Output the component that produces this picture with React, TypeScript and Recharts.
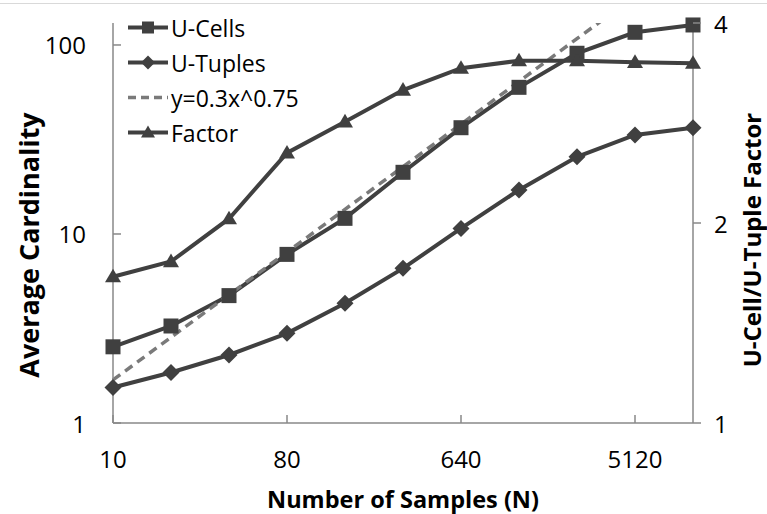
import { LineChart, Line, XAxis, YAxis, Legend, Label } from "recharts";

const samples = [10, 20, 40, 80, 160, 320, 640, 1280, 2560, 5120, 10240];
const uCells = [2.53, 3.26, 4.72, 7.8, 12.1, 21.2, 36.5, 59.7, 90.4, 116.7, 127.6];
const uTuples = [1.54, 1.85, 2.29, 2.98, 4.3, 6.58, 10.7, 17.1, 25.6, 33.4, 36.5];
const fitLine = [1.69, 2.84, 4.77, 8.02, 13.5, 22.7, 38.1, 64.1, 108, 181, 305];
const factor = [1.66, 1.75, 2.03, 2.55, 2.84, 3.17, 3.42, 3.51, 3.51, 3.49, 3.48];

const xTicks = [10, 80, 640, 5120];
const leftTicks = [1, 10, 100];
const rightTicks = [1, 2, 4];

const seriesNames = ["U-Cells", "U-Tuples", "y=0.3x^0.75", "Factor"];

const data = samples.map((n, i) => ({
  n,
  cells: uCells[i],
  tuples: uTuples[i],
  fit: fitLine[i],
  factor: factor[i],
}));

const FONT = '"Open Sans", sans-serif';
const DARK = "#404040";
const DASH = "#7a7a7a";
const AXIS = "#888888";

function LeftTick({ x, y, payload }: any) {
  return (
    <g>
      <line x1={x} x2={x + 8} y1={y} y2={y} stroke={AXIS} strokeWidth={1.5} />
      <text x={x - 27} y={y} textAnchor="end" dominantBaseline="central" fontFamily={FONT} fontSize={24} fill="#000">
        {payload.value}
      </text>
    </g>
  );
}

function RightTick({ x, y, payload }: any) {
  return (
    <g>
      <line x1={x} x2={x + 8} y1={y} y2={y} stroke={AXIS} strokeWidth={1.5} />
      <text x={x + 21} y={y} textAnchor="start" dominantBaseline="central" fontFamily={FONT} fontSize={24} fill="#000">
        {payload.value}
      </text>
    </g>
  );
}

function BottomTick({ x, y, payload }: any) {
  return (
    <g>
      <line x1={x} x2={x} y1={y - 8} y2={y} stroke={AXIS} strokeWidth={1.5} />
      <text x={x} y={y + 35} textAnchor="middle" dominantBaseline="central" fontFamily={FONT} fontSize={24} fill="#000">
        {payload.value}
      </text>
    </g>
  );
}

function Square({ cx, cy, index, size = 15 }: any) {
  return <rect key={`sq-${index}`} x={cx - size / 2} y={cy - size / 2} width={size} height={size} fill={DARK} />;
}

function Diamond({ cx, cy, index, size = 8.5 }: any) {
  return (
    <polygon
      key={`dm-${index}`}
      points={`${cx},${cy - size} ${cx + size},${cy} ${cx},${cy + size} ${cx - size},${cy}`}
      fill={DARK}
    />
  );
}

function Triangle({ cx, cy, index, size = 8 }: any) {
  return (
    <polygon
      key={`tr-${index}`}
      points={`${cx},${cy - size} ${cx + size},${cy + size * 0.7} ${cx - size},${cy + size * 0.7}`}
      fill={DARK}
    />
  );
}

function LegendBox() {
  const icons = [
    <Square cx={21} cy={17.5} size={12} />,
    <Diamond cx={21} cy={17.5} size={7} />,
    null,
    <Triangle cx={21} cy={17.5} size={7} />,
  ];
  return (
    <div style={{ fontFamily: FONT, fontSize: 23, color: "#000" }}>
      {seriesNames.map((name, i) => (
        <div key={name} style={{ display: "flex", alignItems: "center", height: 35 }}>
          <svg width={44} height={35}>
            <line
              x1={1}
              x2={41}
              y1={17.5}
              y2={17.5}
              stroke={i === 2 ? DASH : DARK}
              strokeWidth={i === 2 ? 3.5 : 4}
              strokeDasharray={i === 2 ? "8 5" : undefined}
            />
            {icons[i]}
          </svg>
          <span style={{ whiteSpace: "nowrap" }}>{name}</span>
        </div>
      ))}
    </div>
  );
}

function VerticalTitle({ cx, cy, text, size }: any) {
  return (
    <text
      x={cx}
      y={cy}
      transform={`rotate(-90 ${cx} ${cy})`}
      textAnchor="middle"
      dominantBaseline="central"
      fontFamily={FONT}
      fontWeight="bold"
      fontSize={size}
      fill="#000"
    >
      {text}
    </text>
  );
}

export default function App() {
  return (
    <div style={{ position: "absolute", left: 0, top: 0, width: 767, height: 514, background: "#fff" }}>
      <div style={{ position: "absolute", left: 0, top: 3, width: 767, borderTop: "1px solid #d9d9d9" }} />
      <LineChart width={767} height={514} data={data} margin={{ top: 23, right: 0, bottom: 0, left: 0 }}>
        <XAxis
          dataKey="n"
          type="number"
          scale="log"
          domain={[10, 10240]}
          ticks={xTicks}
          interval={0}
          height={91}
          tickSize={0}
          tickMargin={0}
          tickLine={false}
          axisLine={{ stroke: AXIS, strokeWidth: 1.5 }}
          tick={<BottomTick />}
        >
          <Label
            content={({ viewBox }: any) => (
              <text
                x={viewBox.x + viewBox.width / 2}
                y={viewBox.y + 76}
                textAnchor="middle"
                dominantBaseline="central"
                fontFamily={FONT}
                fontWeight="bold"
                fontSize={23.5}
                fill="#000"
              >
                Number of Samples (N)
              </text>
            )}
          />
        </XAxis>
        <YAxis
          yAxisId="left"
          type="number"
          scale="log"
          domain={[1, 130.7]}
          ticks={leftTicks}
          interval={0}
          width={113}
          tickSize={0}
          tickMargin={0}
          tickLine={false}
          axisLine={{ stroke: AXIS, strokeWidth: 1.5 }}
          tick={<LeftTick />}
        >
          <Label
            content={({ viewBox }: any) => (
              <VerticalTitle
                cx={viewBox.x + 28}
                cy={viewBox.y + viewBox.height / 2 + 22}
                text="Average Cardinality"
                size={27}
              />
            )}
          />
        </YAxis>
        <YAxis
          yAxisId="fit"
          type="number"
          scale="log"
          domain={[1, 130.7]}
          allowDataOverflow
          hide
          width={0}
        />
        <YAxis
          yAxisId="right"
          orientation="right"
          type="number"
          scale="log"
          domain={[1, 4]}
          ticks={rightTicks}
          interval={0}
          width={74}
          tickSize={0}
          tickMargin={0}
          tickLine={false}
          axisLine={{ stroke: AXIS, strokeWidth: 1.5 }}
          tick={<RightTick />}
        >
          <Label
            content={({ viewBox }: any) => (
              <VerticalTitle
                cx={viewBox.x + 58}
                cy={viewBox.y + viewBox.height / 2 + 17}
                text="U-Cell/U-Tuple Factor"
                size={24}
              />
            )}
          />
        </YAxis>
        <Legend
          layout="vertical"
          align="center"
          verticalAlign="middle"
          wrapperStyle={{ left: 127, top: 10, width: 260 }}
          content={() => <LegendBox />}
        />
        <Line
          yAxisId="left"
          dataKey="cells"
          stroke={DARK}
          strokeWidth={4}
          dot={(p: any) => <Square {...p} key={`sq-${p.index}`} />}
          isAnimationActive={false}
        />
        <Line
          yAxisId="left"
          dataKey="tuples"
          stroke={DARK}
          strokeWidth={4}
          dot={(p: any) => <Diamond {...p} key={`dm-${p.index}`} />}
          isAnimationActive={false}
        />
        <Line
          yAxisId="fit"
          dataKey="fit"
          stroke={DASH}
          strokeWidth={3.5}
          strokeDasharray="9 6"
          dot={false}
          isAnimationActive={false}
        />
        <Line
          yAxisId="right"
          dataKey="factor"
          stroke={DARK}
          strokeWidth={4}
          dot={(p: any) => <Triangle {...p} key={`tr-${p.index}`} />}
          isAnimationActive={false}
        />
      </LineChart>
    </div>
  );
}
